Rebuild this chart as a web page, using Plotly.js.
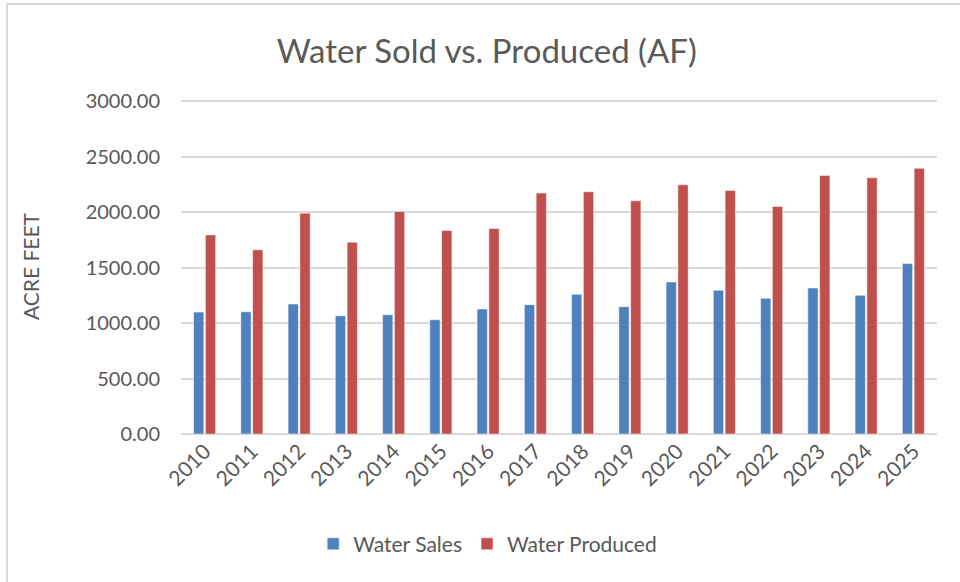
<!DOCTYPE html>
<html>
<head>
<meta charset="utf-8">
<script src="https://cdn.plot.ly/plotly-3.0.1.min.js"></script>
<style>
  body { margin: 0; background: #fff; }
  #chart { position: absolute; left: 0; top: 0; width: 960px; height: 582px; }
  #frame { position: absolute; left: 6px; top: 3px; width: 960px; height: 582px;
           border-left: 2px solid #D9D9D9; border-top: 2px solid #D9D9D9; pointer-events: none; }
</style>
</head>
<body>
<div id="chart"></div>
<div id="frame"></div>
<script>
// years on the category axis
var years = ["2010", "2011", "2012", "2013", "2014", "2015", "2016", "2017",
             "2018", "2019", "2020", "2021", "2022", "2023", "2024", "2025"];

// acre feet
var waterSales = [1099, 1102, 1172, 1066, 1075, 1030, 1127, 1166,
                  1259, 1148, 1370, 1295, 1223, 1316, 1250, 1536];
var waterProduced = [1795, 1660, 1991, 1729, 2006, 1834, 1852, 2172,
                     2184, 2102, 2247, 2196, 2051, 2331, 2310, 2395];

var yTicks = [0, 500, 1000, 1500, 2000, 2500, 3000];

var salesTrace = {
    x: years,
    y: waterSales,
    name: "Water Sales",
    type: "bar",
    marker: {color: "#4F81BD", line: {color: "rgba(255,255,255,0.5)", width: 1}}
};

var producedTrace = {
    x: years,
    y: waterProduced,
    name: "Water Produced",
    type: "bar",
    marker: {color: "#C0504D", line: {color: "rgba(255,255,255,0.5)", width: 1}}
};

var layout = {
    width: 960,
    height: 582,
    margin: {l: 181, r: 23, t: 99, b: 148},
    paper_bgcolor: "rgba(0,0,0,0)",
    plot_bgcolor: "#fff",
    font: {family: "Lato, 'Open Sans', sans-serif", color: "#595959", size: 19},
    title: {
        text: "Water Sold vs. Produced (AF)",
        font: {size: 33, color: "#595959"},
        xref: "container", x: 0.507,
        yref: "container", y: 0.912, yanchor: "middle"
    },
    barmode: "group",
    bargap: 0.5,
    bargroupgap: 0.13,
    xaxis: {
        type: "category",
        tickangle: -45,
        tickfont: {size: 21, color: "#595959"},
        showgrid: false,
        showline: false,
        ticks: ""
    },
    yaxis: {
        range: [0, 3020],
        tickvals: yTicks,
        tickformat: ".2f",
        tickfont: {size: 20, color: "#595959"},
        gridcolor: "#D9D9D9",
        gridwidth: 1.5,
        zeroline: true,
        zerolinecolor: "#D9D9D9",
        zerolinewidth: 1.5,
        ticks: "",
        ticklabelstandoff: 20,
        title: {text: "ACRE FEET", font: {size: 21, color: "#595959"}, standoff: 40}
    },
    showlegend: true,
    legend: {
        orientation: "h",
        xref: "container", x: 0.508, xanchor: "center",
        yref: "container", y: 0.065, yanchor: "middle",
        font: {size: 21, color: "#595959"},
        itemwidth: 30,
        traceorder: "normal"
    }
};

Plotly.newPlot("chart", [salesTrace, producedTrace], layout, {displayModeBar: false});
</script>
</body>
</html>
